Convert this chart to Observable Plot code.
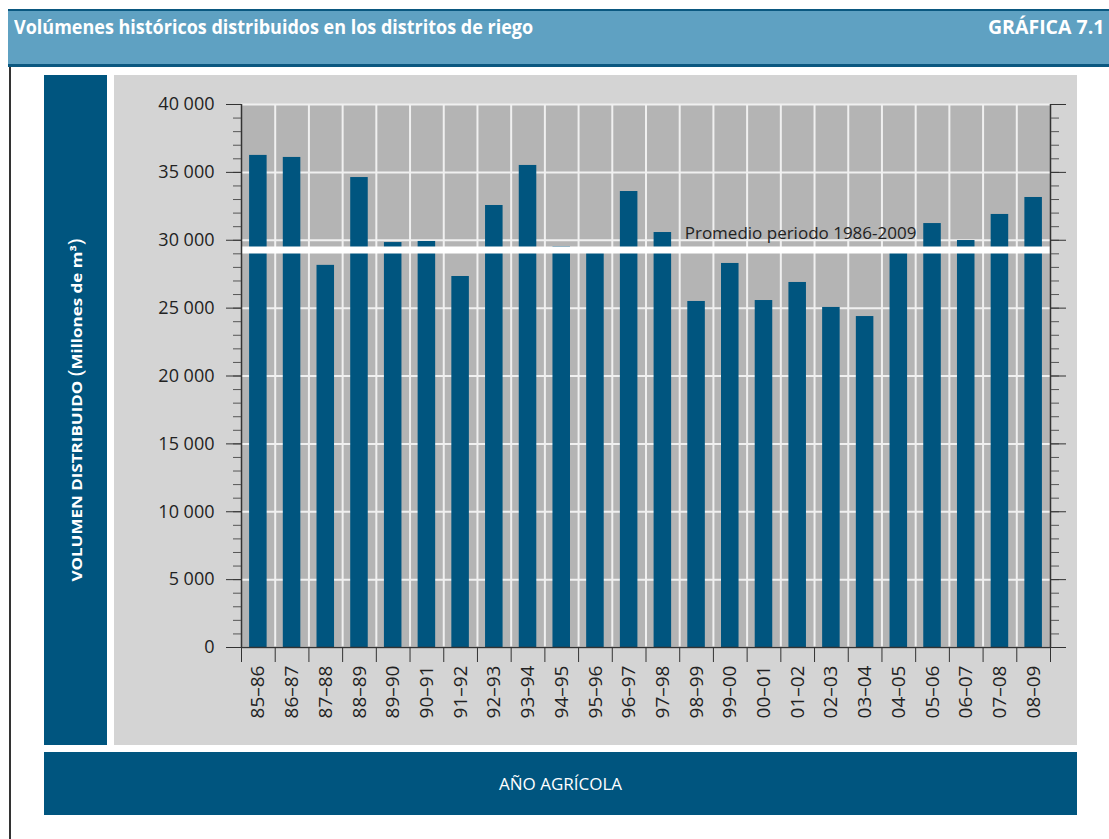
<!DOCTYPE html>
<html><head><meta charset="utf-8">
<script src="https://cdn.jsdelivr.net/npm/d3@7"></script>
<script src="https://cdn.jsdelivr.net/npm/@observablehq/plot@0.6"></script>
<style>
body{margin:0;width:1109px;height:839px;position:relative;background:#fff;font-family:"Open Sans",sans-serif;overflow:hidden}
#hdr{position:absolute;left:8px;top:9px;width:1101px;height:58px;background:#5fa1c2;border-top:2px solid #0b5880;border-bottom:3px solid #0b5880;box-sizing:border-box}
#title{position:absolute;left:6px;top:3px;line-height:26px;font-size:19px;font-weight:700;color:#fff;white-space:nowrap;display:inline-block;transform-origin:left center}
#gnum{position:absolute;right:5px;top:3px;line-height:26px;font-size:19px;font-weight:700;color:#fff;white-space:nowrap;display:inline-block;transform-origin:right center}
#vline{position:absolute;left:9px;top:67px;width:2px;height:772px;background:#333}
#ybox{position:absolute;left:44px;top:75px;width:63px;height:670px;background:#00557f}
#ylab{position:absolute;left:50%;top:50%;white-space:nowrap;color:#fff;font-weight:700;font-size:15px;display:inline-block}
#ylab .par{font-size:20px;font-weight:400;line-height:15px}
#panel{position:absolute;left:114px;top:75px;width:963px;height:670px;background:#d4d4d4}
#chart{position:absolute;left:114px;top:75px}
#xbox{position:absolute;left:44px;top:752px;width:1033px;height:63px;background:#00557f;color:#fff;font-size:17px;text-align:center;line-height:63px}
</style></head>
<body>
<div id="hdr"><span id="title">Volúmenes históricos distribuidos en los distritos de riego</span><span id="gnum">GRÁFICA 7.1</span></div>
<div id="vline"></div>
<div id="ybox"><span id="ylab">VOLUMEN DISTRIBUIDO <span class="par">(</span>Millones de m³<span class="par">)</span></span></div>
<div id="panel"></div>
<div id="chart"></div>
<div id="xbox">AÑO AGRÍCOLA</div>
<script>
const categories = ["85–86","86–87","87–88","88–89","89–90","90–91","91–92","92–93","93–94","94–95","95–96","96–97","97–98","98–99","99–00","00–01","01–02","02–03","03–04","04–05","05–06","06–07","07–08","08–09"];
const volumes = [36250,36100,28150,34620,29830,29910,27330,32560,35510,29520,29200,33590,30570,25490,28290,25560,26890,25050,24380,29300,31230,29980,31900,33150];
const promedio = 29280;
const promedioLabel = "Promedio periodo 1986-2009";
const yTicks = [0,5000,10000,15000,20000,25000,30000,35000,40000];
const yMinorTicks = d3.range(0, 40001, 1000);

const n = categories.length;
const data = categories.map((c, i) => ({cat: c, i, v: volumes[i]}));
const fmt = d => d3.format(",")(d).replace(/,/g, " ");
const blank = () => "";

const plot = Plot.plot({
  width: 963, height: 670,
  marginLeft: 127, marginRight: 27, marginTop: 29, marginBottom: 98,
  style: {background: "transparent", fontFamily: "'Open Sans', sans-serif", color: "#222", overflow: "visible"},
  x: {type: "linear", domain: [0, n], axis: null},
  y: {domain: [0, 40000], axis: null},
  marks: [
    Plot.frame({fill: "#b4b4b4", stroke: null}),
    Plot.ruleY(yTicks, {stroke: "#f0f0f0", strokeWidth: 2}),
    Plot.ruleX(d3.range(1, n), {stroke: "#f0f0f0", strokeWidth: 2}),
    Plot.rectY(data, {x1: d => d.i + 0.24, x2: d => d.i + 0.76, y: "v", fill: "#00557f"}),
    Plot.ruleY([promedio], {stroke: "white", strokeWidth: 7}),
    Plot.text([promedioLabel], {x: categories.indexOf("98–99"), y: promedio, text: d => d, dx: 5, dy: -16, textAnchor: "start", fontSize: 17, fill: "#222"}),
    Plot.ruleX([0, n], {stroke: "#333", strokeWidth: 1.5}),
    Plot.ruleY([0], {stroke: "#333", strokeWidth: 1.5}),
    Plot.axisY({anchor: "left", ticks: yMinorTicks, tickSize: 8, tickFormat: blank, stroke: "#555", label: null}),
    Plot.axisY({anchor: "left", ticks: yTicks, tickSize: 15, tickPadding: 12, tickFormat: fmt, fontSize: 18, stroke: "#333", fill: "#222", label: null}),
    Plot.axisY({anchor: "right", ticks: yMinorTicks, tickSize: 8, tickFormat: blank, stroke: "#555", label: null}),
    Plot.axisY({anchor: "right", ticks: yTicks, tickSize: 15, tickFormat: blank, stroke: "#333", label: null}),
    Plot.axisX({anchor: "bottom", ticks: d3.range(0, n + 1), tickSize: 15, tickFormat: blank, stroke: "#333", label: null}),
    Plot.axisX({anchor: "bottom", ticks: d3.range(0, n).map(i => i + 0.5), tickSize: 0, tickPadding: 18, tickRotate: -90, tickFormat: t => categories[Math.floor(t)], fontSize: 19, fill: "#222", label: null})
  ]
});
document.getElementById("chart").appendChild(plot);

function fitX(id, target, extra) {
  const el = document.getElementById(id);
  const k = target / el.offsetWidth;
  el.style.transform = (extra || "") + " scaleX(" + k + ")";
}
fitX("title", 519);
fitX("gnum", 116);
fitX("ylab", 343, "translate(-50%,-50%) rotate(-90deg)");
</script>
</body></html>
